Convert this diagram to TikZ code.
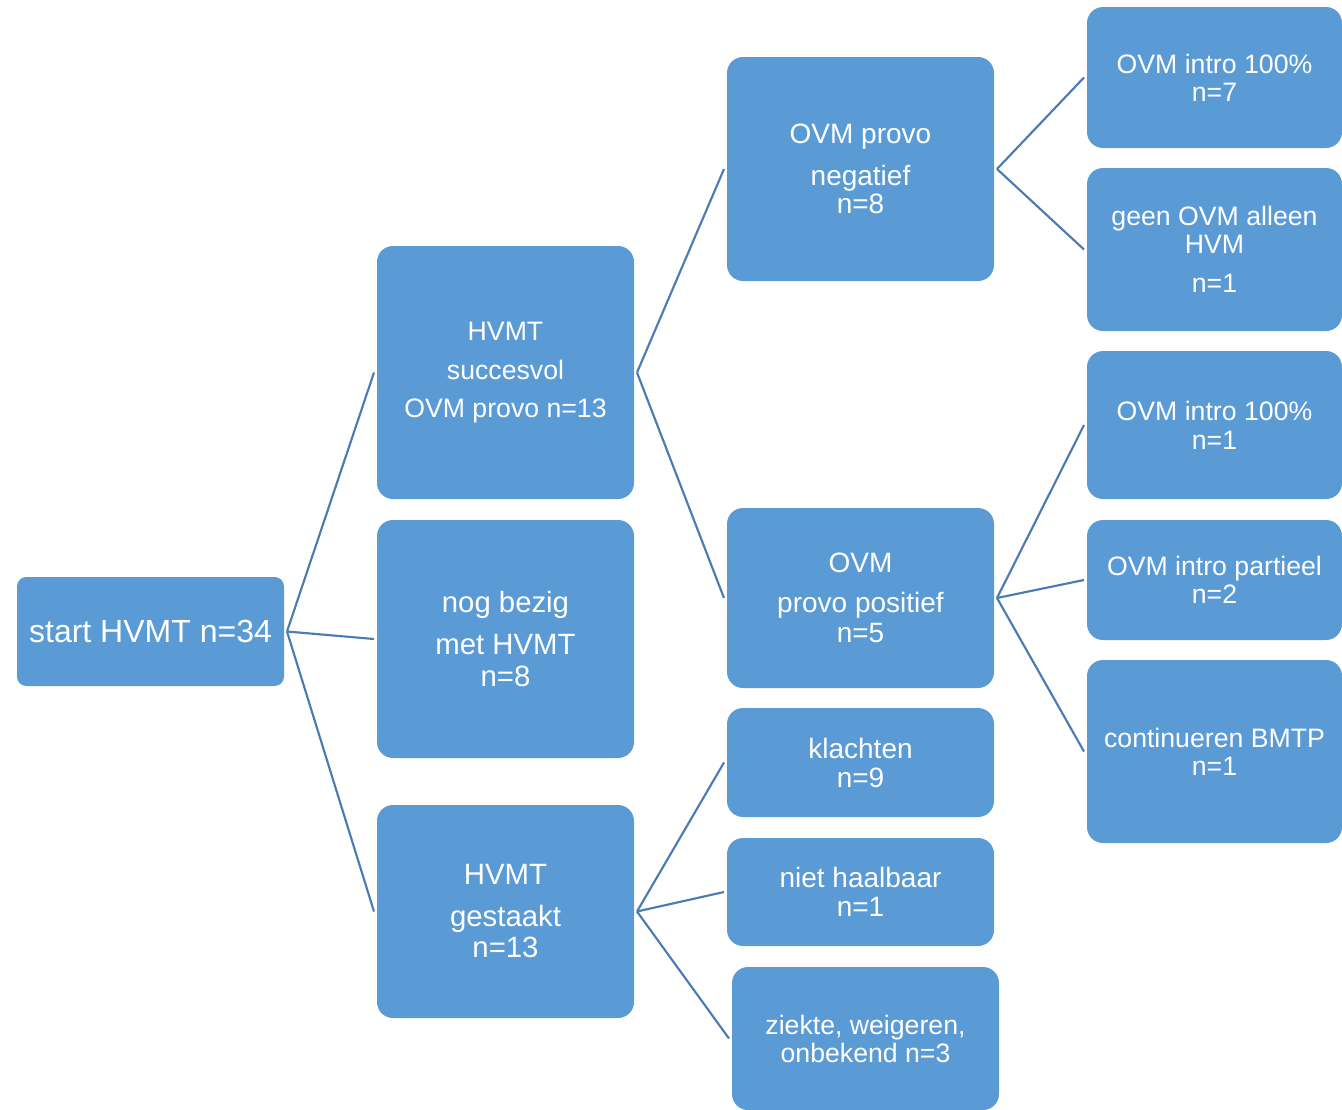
\documentclass[tikz,border=0pt]{standalone}
\usepackage{fontspec}
\setmainfont{Liberation Sans}
\definecolor{boxblue}{HTML}{5B9BD5}
\definecolor{linkblue}{HTML}{4A7BB3}
\begin{document}
\begin{tikzpicture}[x=0.75pt,y=-0.75pt,
  box/.style={draw=none, fill=boxblue, rounded corners=12pt, text=white, align=center,
    inner sep=0pt, outer sep=2.25pt, font=\fontsize{20}{21}\selectfont},
  bigtext/.style={font=\fontsize{22}{21}\selectfont},
  midtext/.style={font=\fontsize{21}{21}\selectfont},
  link/.style={draw=linkblue, line width=1.6pt}]
\useasboundingbox (0,0) rectangle (1342,1110);
\begin{scope}
\clip (0,0) rectangle (1342,1110);
\node[box, rounded corners=7pt, minimum width=200.25pt, minimum height=81.75pt, font=\fontsize{24}{25}\selectfont] (start) at (150.5,631.5) {start HVMT n=34};
\node[box, minimum width=192.75pt, minimum height=189.75pt] (succ) at (505.5,372.5) {HVMT\\[8pt]succesvol\\[7.5pt]OVM provo n=13};
\node[box, bigtext, minimum width=192.75pt, minimum height=178.5pt] (bezig) at (505.5,639) {nog bezig\\[10.5pt]met HVMT\\[3pt]n=8};
\node[box, bigtext, minimum width=192.75pt, minimum height=159.75pt] (gest) at (505.5,911.5) {HVMT\\[10.5pt]gestaakt\\[2.25pt]n=13};
\node[box, midtext, minimum width=200.25pt, minimum height=168pt] (neg) at (860.5,169) {OVM provo\\[10.5pt]negatief\\n=8};
\node[box, midtext, minimum width=200.25pt, minimum height=135pt] (pos) at (860.5,598) {OVM\\[9pt]provo positief\\[1.5pt]n=5};
\node[box, midtext, minimum width=200.25pt, minimum height=81.75pt] (kla) at (860.5,762.5) {klachten\\[0.75pt]n=9};
\node[box, midtext, minimum width=200.25pt, minimum height=81pt] (niet) at (860.5,892) {niet haalbaar\\[0.75pt]n=1};
\node[box, minimum width=200.25pt, minimum height=107.25pt] (ziek) at (865.5,1038.5) {ziekte, weigeren,\\onbekend n=3};
\node[box, minimum width=191.25pt, minimum height=105.75pt] (i7) at (1214.5,77.5) {OVM intro 100\%\\n=7};
\node[box, minimum width=191.25pt, minimum height=122.25pt] (geen) at (1214.5,249.5) {geen OVM alleen\\HVM\\[8pt]n=1};
\node[box, minimum width=191.25pt, minimum height=111pt] (i1) at (1214.5,425) {OVM intro 100\%\\[0.75pt]n=1};
\node[box, minimum width=191.25pt, minimum height=90pt] (part) at (1214.5,580) {OVM intro partieel\\n=2};
\node[box, minimum width=191.25pt, minimum height=137.25pt] (cont) at (1214.5,751.5) {continueren BMTP\\n=1};
\end{scope}
\draw[link] (start.east) -- (succ.west);
\draw[link] (start.east) -- (bezig.west);
\draw[link] (start.east) -- (gest.west);
\draw[link] (succ.east) -- (neg.west);
\draw[link] (succ.east) -- (pos.west);
\draw[link] (neg.east) -- (i7.west);
\draw[link] (neg.east) -- (geen.west);
\draw[link] (pos.east) -- (i1.west);
\draw[link] (pos.east) -- (part.west);
\draw[link] (pos.east) -- (cont.west);
\draw[link] (gest.east) -- (kla.west);
\draw[link] (gest.east) -- (niet.west);
\draw[link] (gest.east) -- (ziek.west);
\end{tikzpicture}
\end{document}
